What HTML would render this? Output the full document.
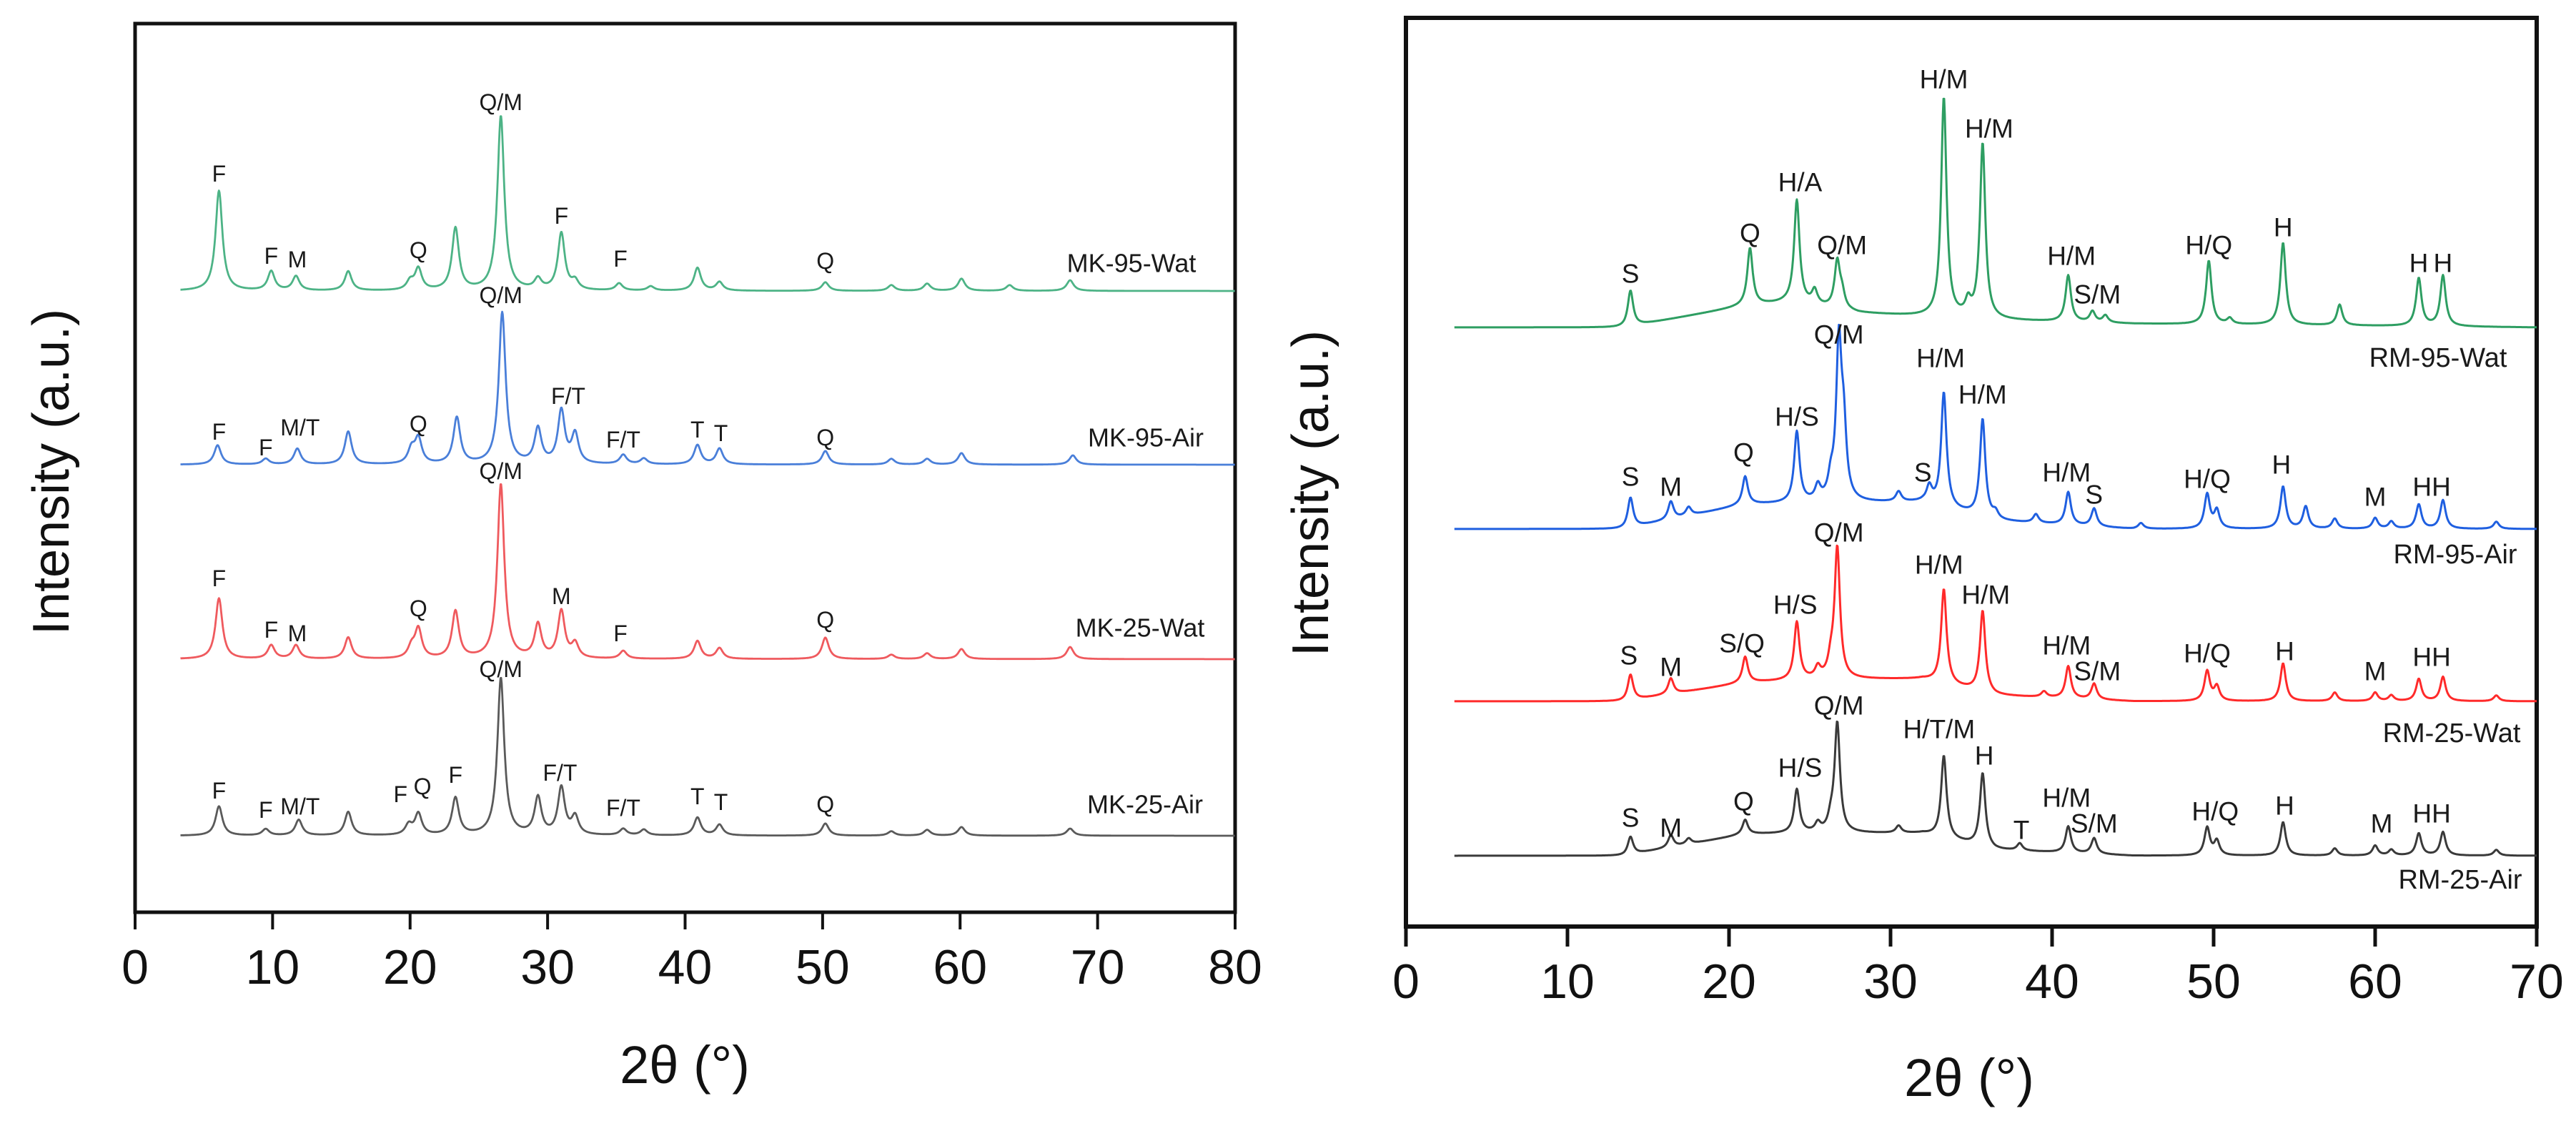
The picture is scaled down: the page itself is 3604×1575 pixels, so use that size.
<!DOCTYPE html>
<html><head><meta charset="utf-8">
<style>
html,body{margin:0;padding:0;background:#fff;}
svg{display:block;font-family:"Liberation Sans",Arial,sans-serif;}
</style></head>
<body>
<svg id="fig" width="3604" height="1575" viewBox="0 0 3604 1575" xmlns="http://www.w3.org/2000/svg">
  <rect width="3604" height="1575" fill="#fff"/>
  <g id="left"></g>
  <g id="right"></g>
</svg>
<script>
// ---------- LEFT PANEL DATA (MK) ----------
const leftTicks = [0,10,20,30,40,50,60,70,80];
const leftSeriesNames = ["MK-95-Wat","MK-95-Air","MK-25-Wat","MK-25-Air"];
const leftOffsets = [869, 626, 354, 107];
const mk95WatPeaks = [[6.1,140],[9.9,27],[11.7,20],[15.5,27],[20.0,12],[20.6,30],[23.3,87],[26.6,244],[29.3,15],[31.0,80],[32.0,12],[35.2,10],[37.5,6],[40.9,32],[42.5,12],[50.2,12],[55,8],[57.6,10],[60.1,17],[63.6,8],[68,15]];
const mk95AirPeaks = [[6.0,27],[9.5,8],[11.8,22],[15.5,46],[20.1,20],[20.6,35],[23.4,65],[26.7,212],[29.3,49],[31.0,74],[32.0,41],[35.5,13],[37,8],[40.9,27],[42.5,22],[50.2,19],[55,8],[57.6,8],[60.1,16],[68.2,13]];
const mk25WatPeaks = [[6.1,85],[9.9,19],[11.7,19],[15.5,30],[20.1,15],[20.6,41],[23.3,66],[26.6,244],[29.3,47],[31.0,66],[32,20],[35.5,11],[40.9,25],[42.5,15],[50.2,30],[55,6],[57.6,8],[60.1,14],[68,17]];
const mk25AirPeaks = [[6.1,41],[9.5,9],[11.9,22],[15.5,33],[19.9,14],[20.6,30],[23.3,52],[26.6,220],[29.3,52],[31.0,66],[32,25],[35.5,9],[37,8],[40.9,25],[42.5,15],[50.2,17],[55,6],[57.6,8],[60.1,12],[68,10]];
const leftColors = ["#4db386","#4a7fd9","#ef5a5e","#5a5a5a"];

// ---------- RIGHT PANEL DATA (RM) ----------
const rightTicks = [0,10,20,30,40,50,60,70];
const rightSeriesNames = ["RM-95-Wat","RM-95-Air","RM-25-Wat","RM-25-Air"];
const rightOffsets = [838, 556, 315, 99];
const rm95WatHump = [[3,0],[13.5,0],[21,30],[24,35],[28,20],[32,15],[36.5,10],[45,5],[70,0]];
const rm95AirHump = [[3,0],[13.5,0],[21,34],[26,37],[32,37],[36.5,11],[45,0],[70,0]];
const rm25WatHump = [[3,0],[13.5,0],[21,26],[26,31],[32,31],[36.5,8],[45,0],[70,0]];
const rm25AirHump = [[3,0],[13.5,0],[21,30],[26,32],[32,31],[36.5,8],[45,0],[70,0]];
const rm95WatPeaks = [[13.9,50],[21.3,80],[24.2,143],[25.3,20],[26.7,65],[27.0,20],[33.3,307],[34.8,20],[35.7,245],[41.0,65],[42.5,15],[43.3,10],[49.7,89],[51,8],[54.3,115],[57.8,29],[62.7,67],[64.2,71]];
const rm95AirPeaks = [[13.9,42],[16.4,25],[17.5,12],[21.0,39],[24.2,99],[25.5,20],[26.3,25],[26.8,216],[27.1,90],[30.5,14],[32.4,22],[33.3,160],[35.7,137],[36.5,10],[39,12],[41.0,46],[42.6,25],[45.5,8],[49.6,48],[50.2,25],[54.3,59],[55.7,31],[57.5,14],[60.0,15],[61,10],[62.7,34],[64.2,40],[67.5,10]];
const rm25WatPeaks = [[13.9,36],[16.4,22],[21.0,36],[24.2,81],[25.5,15],[26.3,20],[26.7,183],[33.3,132],[35.7,114],[39.5,8],[41.0,45],[42.6,22],[49.6,42],[50.2,20],[54.3,53],[57.5,12],[60.0,12],[61,8],[62.7,31],[64.2,34],[67.5,8]];
const rm25AirPeaks = [[13.9,25],[16.4,17],[17.5,8],[21.0,20],[24.2,61],[25.5,12],[26.3,15],[26.7,153],[30.5,10],[33.3,115],[35.7,103],[38,10],[41.0,37],[42.6,22],[49.6,39],[50.2,20],[54.3,47],[57.5,10],[60.0,14],[61,8],[62.7,31],[64.2,33],[67.5,8]];
const rightColors = ["#2e9e62","#1f5fe0","#ff2a2a","#3a3a3a"];

const NS = "http://www.w3.org/2000/svg";
function mk(tag, attrs, parent){ const e=document.createElementNS(NS,tag); for(const k in attrs) e.setAttribute(k,attrs[k]); parent.appendChild(e); return e; }

function makeAxes(cfg){
  cfg.x = d => cfg.x0 + (d - cfg.dmin)/(cfg.dmax-cfg.dmin)*(cfg.x1-cfg.x0);
  cfg.y = v => cfg.yBottom - v;
  return cfg;
}
function interp(pts, d){
  if(d<=pts[0][0]) return pts[0][1];
  for(let i=1;i<pts.length;i++){ if(d<=pts[i][0]){ const a=pts[i-1],b=pts[i]; return a[1]+(b[1]-a[1])*(d-a[0])/(b[0]-a[0]); } }
  return pts[pts.length-1][1];
}
function drawSeries(ax, g, peaks, hump, offset, color, width, start, end, w, name){
  let d=""; const step=0.04;
  for(let t=start; t<=end+1e-9; t+=step){
    let v = offset + (hump? interp(hump,t):0);
    for(const p of peaks){ const z=(t-p[0])/w; v += p[1]/(1+z*z); }
    d += (d?"L":"M") + ax.x(t).toFixed(1) + "," + ax.y(v).toFixed(1);
  }
  const path = mk("path",{d:d,fill:"none",stroke:color,"stroke-width":width,"stroke-linejoin":"round"},g);
  
  
}
function frame(ax, g, ticks, sw, tickLen, fs, labelY){
  const r = mk("rect",{x:ax.x0,y:ax.top,width:ax.frameRight-ax.x0,height:ax.yBottom-ax.top,fill:"none",stroke:"#111","stroke-width":sw},g);
  
  
  for(const t of ticks){
    const X=ax.x(t);
    const l = mk("line",{x1:X,y1:ax.yBottom,x2:X,y2:ax.yBottom+tickLen,stroke:"#111","stroke-width":sw-1},g);
    
    
    const tx = mk("text",{x:X,y:labelY,"font-size":fs,"text-anchor":"middle",fill:"#111"},g);
    tx.textContent = t;
    
    
  }
}
function label(g, x, y, txt, fs, name){
  const t = mk("text",{x:x,y:y,"font-size":fs,"text-anchor":"middle","dominant-baseline":"central",fill:"#1a1a1a"},g);
  t.textContent = txt;
  
  
}

// LEFT
const L = makeAxes({x0:189,x1:1728,frameRight:1728,dmin:0,dmax:80,yBottom:1276,top:33});
const gl = document.getElementById("left");
frame(L, gl, leftTicks, 5, 24, 68, 1376);
const leftPeaks=[mk95WatPeaks,mk95AirPeaks,mk25WatPeaks,mk25AirPeaks];
for(let i=0;i<4;i++) drawSeries(L, gl, leftPeaks[i], null, leftOffsets[i], leftColors[i], 2.8, 3.3, 80, 0.3, "series-"+leftSeriesNames[i].toLowerCase());
const lfs=32;
[[6.1,243,"F"],[9.9,358,"F"],[11.8,363,"M"],[20.6,350,"Q"],[26.6,143,"Q/M"],[31.0,302,"F"],[35.3,362,"F"],[50.2,365,"Q"]].forEach(a=>label(gl,L.x(a[0]),a[1],a[2],lfs));
[[6.1,604,"F"],[9.5,626,"F"],[12.0,598,"M/T"],[20.6,593,"Q"],[26.6,413,"Q/M"],[31.5,554,"F/T"],[35.5,615,"F/T"],[40.9,601,"T"],[42.6,606,"T"],[50.2,612,"Q"]].forEach(a=>label(gl,L.x(a[0]),a[1],a[2],lfs));
[[6.1,809,"F"],[9.9,881,"F"],[11.8,886,"M"],[20.6,851,"Q"],[26.6,659,"Q/M"],[31.0,834,"M"],[35.3,886,"F"],[50.2,867,"Q"]].forEach(a=>label(gl,L.x(a[0]),a[1],a[2],lfs));
[[6.1,1106,"F"],[9.5,1133,"F"],[12.0,1128,"M/T"],[19.3,1111,"F"],[20.9,1100,"Q"],[23.3,1084,"F"],[26.6,936,"Q/M"],[30.9,1081,"F/T"],[35.5,1130,"F/T"],[40.9,1114,"T"],[42.6,1122,"T"],[50.2,1125,"Q"]].forEach(a=>label(gl,L.x(a[0]),a[1],a[2],lfs));
[[1583,368],[1603,612],[1595,878],[1602,1125]].forEach((p,i)=>label(gl,p[0],p[1],leftSeriesNames[i],36,"series-name-label"));
const xtl = mk("text",{x:958,y:1515,"font-size":74,"text-anchor":"middle",fill:"#111"},gl); xtl.textContent="2θ (°)";


const ytl = mk("text",{x:0,y:0,"font-size":72,"text-anchor":"middle",fill:"#111",transform:"translate(96,660) rotate(-90)"},gl); ytl.textContent="Intensity (a.u.)";



// RIGHT
const R = makeAxes({x0:1967,x1:3549,frameRight:3549,dmin:0,dmax:70,yBottom:1296,top:25});
const gr = document.getElementById("right");
frame(R, gr, rightTicks, 6, 28, 68, 1396);
const rightPeaks=[rm95WatPeaks,rm95AirPeaks,rm25WatPeaks,rm25AirPeaks];
const rightHumps=[rm95WatHump,rm95AirHump,rm25WatHump,rm25AirHump];
for(let i=0;i<4;i++) drawSeries(R, gr, rightPeaks[i], rightHumps[i], rightOffsets[i], rightColors[i], 3, 3.0, 70, 0.2, "series-"+rightSeriesNames[i].toLowerCase());
const rfs=37;
[[13.9,383,"S"],[21.3,326,"Q"],[24.4,255,"H/A"],[27.0,343,"Q/M"],[33.3,111,"H/M"],[36.1,180,"H/M"],[41.2,358,"H/M"],[42.8,412,"S/M"],[49.7,343,"H/Q"],[54.3,318,"H"],[62.7,368,"H"],[64.2,368,"H"]].forEach(a=>label(gr,R.x(a[0]),a[1],a[2],rfs));
[[13.9,667,"S"],[16.4,681,"M"],[20.9,633,"Q"],[24.2,583,"H/S"],[26.8,468,"Q/M"],[32.0,661,"S"],[33.1,501,"H/M"],[35.7,552,"H/M"],[40.9,661,"H/M"],[42.6,692,"S"],[49.6,670,"H/Q"],[54.2,650,"H"],[60.0,695,"M"],[63.5,681,"HH"]].forEach(a=>label(gr,R.x(a[0]),a[1],a[2],rfs));
[[13.8,917,"S"],[16.4,933,"M"],[20.8,900,"S/Q"],[24.1,846,"H/S"],[26.8,745,"Q/M"],[33.0,790,"H/M"],[35.9,832,"H/M"],[40.9,903,"H/M"],[42.8,939,"S/M"],[49.6,914,"H/Q"],[54.4,911,"H"],[60.0,939,"M"],[63.5,919,"HH"]].forEach(a=>label(gr,R.x(a[0]),a[1],a[2],rfs));
[[13.9,1144,"S"],[16.4,1158,"M"],[20.9,1121,"Q"],[24.4,1074,"H/S"],[26.8,987,"Q/M"],[33.0,1020,"H/T/M"],[35.8,1057,"H"],[38.1,1161,"T"],[40.9,1116,"H/M"],[42.6,1152,"S/M"],[50.1,1135,"H/Q"],[54.4,1127,"H"],[60.4,1152,"M"],[63.5,1138,"HH"]].forEach(a=>label(gr,R.x(a[0]),a[1],a[2],rfs));
[[3411,501],[3435,776],[3430,1026],[3442,1231]].forEach((p,i)=>label(gr,p[0],p[1],rightSeriesNames[i],38,"series-name-label"));
const xtr = mk("text",{x:2755,y:1533,"font-size":74,"text-anchor":"middle",fill:"#111"},gr); xtr.textContent="2θ (°)";


const ytr = mk("text",{x:0,y:0,"font-size":72,"text-anchor":"middle",fill:"#111",transform:"translate(1858,690) rotate(-90)"},gr); ytr.textContent="Intensity (a.u.)";


</script>
</body></html>
